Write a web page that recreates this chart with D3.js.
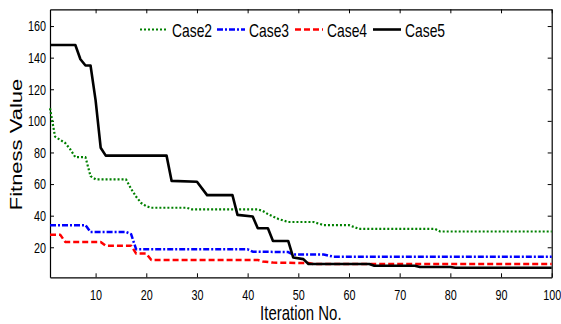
<!DOCTYPE html>
<html>
<head>
<meta charset="utf-8">
<script src="https://cdn.jsdelivr.net/npm/d3@7"></script>
<style>
  body { margin: 0; background: #fff; }
  svg { display: block; }
  text { font-family: "Liberation Sans", Arial, sans-serif; fill: #000; }
</style>
</head>
<body>
<svg id="chart" width="561" height="324"></svg>
<script>
// values, as [iteration, fitness] breakpoints
const case2 = [[1, 108], [2, 90], [3, 88], [4, 86], [5, 82], [6, 77], [8, 77], [9, 65], [10, 63],
  [16, 63], [17, 57], [18, 52], [19, 48], [20, 46], [21, 45], [28, 45], [29, 44], [42, 44],
  [43, 43], [44, 41], [46, 38], [48, 36], [53, 36], [55, 34], [60, 34], [62, 31.6], [77, 31.6],
  [78, 30], [100, 30]];
const case3 = [[1, 34], [8, 34], [9, 29.7], [16, 29.7], [17, 28.3], [18, 18.7], [40, 18.7],
  [41, 17.2], [48, 17], [49, 15.4], [55, 15.4], [57, 14], [100, 14]];
const case4 = [[1, 28], [3, 28], [4, 23.4], [11, 23.4], [12, 21], [17, 21], [18, 16], [20, 16],
  [21, 12], [42, 12], [43, 11], [45, 10.3], [52, 10], [53, 9.4], [100, 9.4]];
const case5 = [[1, 148], [6, 148], [7, 139], [8, 135], [9, 135], [10, 113], [11, 83], [12, 78],
  [24, 78], [25, 62], [30, 61.5], [32, 53], [37, 53], [38, 40.5], [41, 39.5], [42, 32], [44, 32],
  [45, 24], [48, 24], [49, 13.5], [51, 12.5], [52, 9.4], [64, 9.4], [65, 8.3], [73, 8.3],
  [74, 7.5], [80, 7.5], [81, 7], [100, 7]];

const seriesNames = ['Case2', 'Case3', 'Case4', 'Case5'];
const seriesData = [case2, case3, case4, case5];
const xTicks = [10, 20, 30, 40, 50, 60, 70, 80, 90, 100];
const yTicks = [20, 40, 60, 80, 100, 120, 140, 160];

// line styles (matlab-ish)
const styles = [
  {color: '#008000', width: 2.2, dash: '2,2'},
  {color: '#0000ff', width: 2.5, dash: '6,2,2,2'},
  {color: '#ff0000', width: 2.5, dash: '6,3'},
  {color: '#000000', width: 2.6, dash: null}
];

const squeeze = 0.73;  // figure was squashed horizontally, text too
const legendX = [140, 217, 295, 373];

const svg = d3.select('#chart');

const x = d3.scaleLinear().domain([1, 100]).range([50, 551.7]);
const y = d3.scaleLinear().domain([1, 170.6]).range([277.3, 9.3]);

const [x0, x1] = x.range();
const [yb, yt] = y.range();

// axes, ticks pointing inward like matlab box
const bottom = svg.append('g')
  .attr('transform', 'translate(0,' + yb + ')')
  .call(d3.axisBottom(x).tickValues(xTicks).tickSizeInner(-4).tickSizeOuter(0).tickPadding(12.5));
const left = svg.append('g')
  .attr('transform', 'translate(' + x0 + ',0)')
  .call(d3.axisLeft(y).tickValues(yTicks).tickSizeInner(-4).tickSizeOuter(0).tickPadding(5.5));
svg.append('g')
  .attr('transform', 'translate(0,' + yt + ')')
  .call(d3.axisTop(x).tickValues(xTicks).tickSizeInner(-4).tickSizeOuter(0).tickFormat(''));
svg.append('g')
  .attr('transform', 'translate(' + x1 + ',0)')
  .call(d3.axisRight(y).tickValues(yTicks).tickSizeInner(-4).tickSizeOuter(0).tickFormat(''));

[bottom, left].forEach(g => {
  g.attr('font-family', null).attr('font-size', 14.8);
  g.selectAll('text').attr('transform', 'scale(' + squeeze + ',1)');
});
svg.selectAll('.domain').attr('stroke-width', 1.2);

// series
const line = d3.line().x(d => x(d[0])).y(d => y(d[1]));

seriesData.forEach((data, i) => {
  svg.append('path')
    .datum(data)
    .attr('d', line)
    .attr('fill', 'none')
    .attr('stroke', styles[i].color)
    .attr('stroke-width', styles[i].width)
    .attr('stroke-dasharray', styles[i].dash)
    .attr('stroke-linejoin', 'round');
});

// legend
const legend = svg.append('g');
seriesNames.forEach((name, i) => {
  legend.append('line')
    .attr('x1', legendX[i]).attr('x2', legendX[i] + 28)
    .attr('y1', 29.5).attr('y2', 29.5)
    .attr('stroke', styles[i].color)
    .attr('stroke-width', styles[i].width)
    .attr('stroke-dasharray', styles[i].dash);
  legend.append('text')
    .attr('transform', 'translate(' + (legendX[i] + 32) + ',36.5) scale(' + squeeze + ',1)')
    .attr('font-size', 19)
    .text(name);
});

// axis titles
svg.append('text')
  .attr('transform', 'translate(' + ((x0 + x1) / 2) + ',320) scale(' + squeeze + ',1)')
  .attr('text-anchor', 'middle')
  .attr('font-size', 20.5)
  .text('Iteration No.');
svg.append('text')
  .attr('transform', 'translate(22,144.5) scale(' + squeeze + ',1) rotate(-90)')
  .attr('text-anchor', 'middle')
  .attr('font-size', 22)
  .text('Fitness Value');
</script>
</body>
</html>
